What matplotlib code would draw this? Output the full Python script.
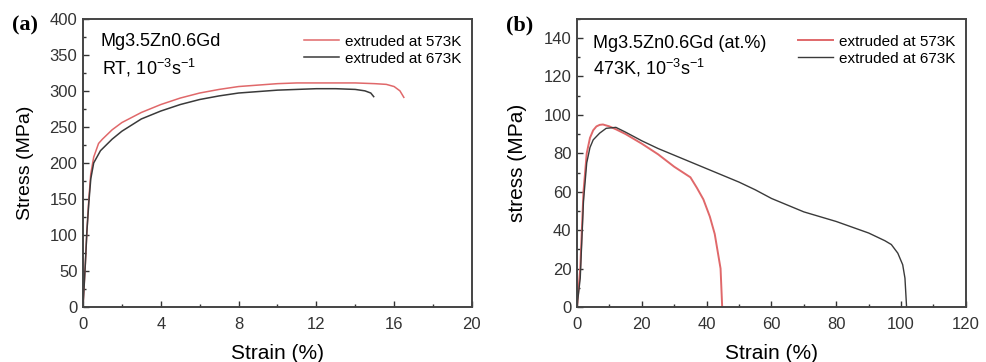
import numpy as np
import matplotlib
matplotlib.use('Agg')
import matplotlib.pyplot as plt
from matplotlib.ticker import MultipleLocator

plt.rcParams['font.family'] = ['Liberation Sans', 'DejaVu Sans']
plt.rcParams['mathtext.default'] = 'regular'

# (a) room temperature tensile curves
rt_573_strain = [0, 0.05, 0.12, 0.2, 0.3, 0.4, 0.55, 0.8, 1.0, 1.5, 2, 3, 4, 5, 6, 7, 8, 9, 10, 11, 12, 13, 14, 15, 15.6, 16.0, 16.3, 16.5]
rt_573_stress = [0, 25, 60, 105, 150, 185, 208, 227, 233, 246, 256, 270, 281, 290, 297, 302, 306, 308, 310, 311, 311, 311, 311, 310, 309, 306, 300, 291]
rt_673_strain = [0, 0.05, 0.12, 0.2, 0.3, 0.4, 0.55, 0.9, 1.2, 1.5, 2, 3, 4, 5, 6, 7, 8, 9, 10, 11, 12, 13, 14, 14.5, 14.8, 14.95]
rt_673_stress = [0, 25, 60, 105, 145, 178, 200, 217, 225, 233, 244, 261, 272, 281, 288, 293, 297, 299, 301, 302, 303, 303, 302, 300, 297, 292]

# (b) 473K tensile curves
ht_573_strain = [0, 1, 2, 3, 4, 5, 6, 7, 8, 10, 12, 15, 20, 25, 30, 35, 37, 39, 41, 42.5, 43.5, 44.3, 44.6, 44.8]
ht_573_stress = [0, 20, 60, 80, 88, 92, 94, 94.8, 95, 94, 92.5, 90, 85, 79.5, 73, 67.5, 62, 56, 47, 38, 28, 20, 8, 0]
ht_673_strain = [0, 1, 2, 3, 4, 5, 7, 9, 12, 15, 20, 25, 30, 35, 40, 45, 50, 55, 60, 65, 70, 75, 80, 85, 90, 95, 97, 99, 100.5, 101.2, 101.5, 101.7]
ht_673_stress = [0, 15, 55, 75, 83, 87, 90.5, 93, 93.5, 91, 86.5, 82.5, 79, 75.5, 72, 68.5, 65, 61, 56.5, 53, 49.5, 47, 44.5, 41.5, 38.5, 34.5, 32.5, 28, 22, 15, 6, 0]

RED = '#e0686a'
BLACK = '#3a3a3a'

fig = plt.figure(figsize=(9.87, 3.62), dpi=100)
ax1 = fig.add_axes([0.0841, 0.152, 0.394, 0.796])
ax2 = fig.add_axes([0.5846, 0.152, 0.394, 0.796])


def style(ax, xmaj, ymaj):
    ax.xaxis.set_major_locator(MultipleLocator(xmaj))
    ax.xaxis.set_minor_locator(MultipleLocator(xmaj / 2))
    ax.yaxis.set_major_locator(MultipleLocator(ymaj))
    ax.yaxis.set_minor_locator(MultipleLocator(ymaj / 2))
    ax.tick_params(which='both', direction='in', colors='#333333', labelsize=12)
    ax.tick_params(which='major', length=4, width=1)
    ax.tick_params(which='minor', length=2.5, width=1)
    ax.tick_params(axis='x', pad=7)
    ax.tick_params(axis='y', pad=4)
    for s in ax.spines.values():
        s.set_linewidth(1.4)
        s.set_color('#444444')


def legend(ax):
    ax.legend(loc='upper right', bbox_to_anchor=(1.0, 0.982), frameon=False, fontsize=11,
              handlelength=2.3, handletextpad=0.4, borderaxespad=0.3, labelspacing=0.2)


ax1.plot(rt_573_strain, rt_573_stress, color=RED, lw=1.1, label='extruded at 573K')
ax1.plot(rt_673_strain, rt_673_stress, color=BLACK, lw=1.1, label='extruded at 673K')
ax1.set_xlim(0, 20)
ax1.set_ylim(0, 400)
style(ax1, 4, 50)
ax1.set_xlabel('Strain (%)', fontsize=15, labelpad=9)
ax1.set_ylabel('Stress (MPa)', fontsize=14, labelpad=11)
ax1.text(0.045, 0.92, 'Mg3.5Zn0.6Gd', transform=ax1.transAxes, fontsize=13, va='center')
ax1.text(0.05, 0.83, r'RT, 10$^{-3}$s$^{-1}$', transform=ax1.transAxes, fontsize=13, va='center')
legend(ax1)

ax2.plot(ht_573_strain, ht_573_stress, color=RED, lw=1.4, label='extruded at 573K')
ax2.plot(ht_673_strain, ht_673_stress, color=BLACK, lw=1.0, label='extruded at 673K')
ax2.set_xlim(0, 120)
ax2.set_ylim(0, 150)
style(ax2, 20, 20)
ax2.set_xlabel('Strain (%)', fontsize=15, labelpad=9)
ax2.set_ylabel('stress (MPa)', fontsize=15, labelpad=12)
ax2.text(0.04, 0.915, 'Mg3.5Zn0.6Gd (at.%)', transform=ax2.transAxes, fontsize=13, va='center')
ax2.text(0.04, 0.83, r'473K, 10$^{-3}$s$^{-1}$', transform=ax2.transAxes, fontsize=13, va='center')
legend(ax2)

fig.text(0.012, 0.93, '(a)', fontsize=16, fontweight='bold', family='Liberation Serif', va='center')
fig.text(0.513, 0.93, '(b)', fontsize=16, fontweight='bold', family='Liberation Serif', va='center')

fig.savefig('out.png', dpi=100)
